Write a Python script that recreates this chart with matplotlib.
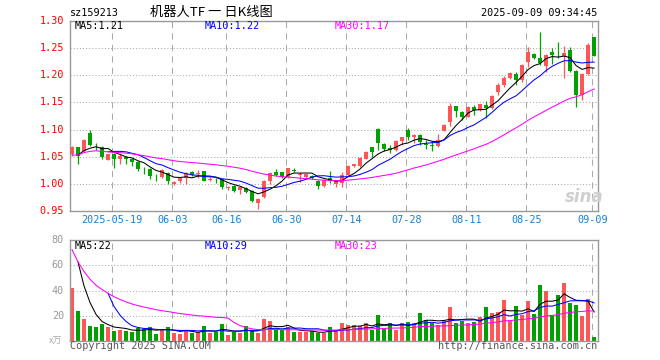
import numpy as np
import pandas as pd
import matplotlib
matplotlib.use("Agg")
import matplotlib.pyplot as plt

# daily bars for 159213
opens = [1.054, 1.067, 1.060, 1.093, 1.070, 1.068, 1.044, 1.055, 1.046, 1.049,
         1.046, 1.0395, 1.029, 1.027, 1.0146, 1.0117, 1.020, 0.9994, 1.004, 1.0105,
         1.0216, 1.018, 1.0235, 1.007, 1.009, 1.008, 0.992, 0.9963, 0.9889, 0.992,
         0.987, 0.9642, 0.9752, 1.004, 1.021, 1.021, 1.0117, 1.025, 1.0155, 1.012,
         1.0136, 1.0056, 0.9951, 1.010, 1.000, 1.0012, 1.0166, 1.0319, 1.033, 1.046,
         1.0675, 1.1012, 1.073, 1.066, 1.0626, 1.0797, 1.0994, 1.0859, 1.0896, 1.073,
         1.072, 1.070, 1.098, 1.1135, 1.1436, 1.133, 1.124, 1.1417, 1.136, 1.1454,
         1.140, 1.1688, 1.1823, 1.1958, 1.202, 1.191, 1.2254, 1.2395, 1.2328, 1.218,
         1.2426, 1.2395, 1.2358, 1.2469, 1.2082, 1.1638, 1.2032, 1.2703]
highs = [1.069, 1.068, 1.083, 1.100, 1.075, 1.069, 1.055, 1.056, 1.054, 1.051,
         1.047, 1.041, 1.030, 1.028, 1.018, 1.027, 1.021, 1.004, 1.011, 1.021,
         1.023, 1.026, 1.024, 1.012, 1.010, 1.009, 0.996, 0.997, 0.995, 0.993,
         0.988, 0.973, 1.006, 1.021, 1.0271, 1.022, 1.029, 1.028, 1.021, 1.018,
         1.016, 1.006, 1.008, 1.024, 1.007, 1.0215, 1.035, 1.037, 1.050, 1.060,
         1.068, 1.102, 1.075, 1.072, 1.081, 1.087, 1.1025, 1.091, 1.091, 1.081,
         1.078, 1.092, 1.110, 1.1485, 1.144, 1.135, 1.143, 1.145, 1.148, 1.153,
         1.164, 1.186, 1.198, 1.206, 1.207, 1.222, 1.252, 1.241, 1.2808, 1.240,
         1.250, 1.261, 1.254, 1.253, 1.210, 1.204, 1.259, 1.271]
lows = [1.052, 1.037, 1.058, 1.070, 1.063, 1.046, 1.043, 1.029, 1.036, 1.036,
        1.032, 1.024, 1.017, 1.009, 1.0056, 1.010, 0.999, 0.998, 1.001, 0.9994,
        1.014, 1.0105, 1.005, 1.004, 1.002, 0.990, 0.989, 0.985, 0.981, 0.983,
        0.9655, 0.9537, 0.974, 0.9998, 1.015, 1.010, 1.011, 1.021, 1.003, 1.011,
        1.008, 0.990, 0.994, 1.001, 0.993, 0.993, 1.014, 1.030, 1.031, 1.045,
        1.0497, 1.0613, 1.0595, 1.057, 1.060, 1.072, 1.081, 1.076, 1.0718, 1.0635,
        1.0595, 1.068, 1.097, 1.107, 1.124, 1.118, 1.123, 1.127, 1.135, 1.122,
        1.138, 1.164, 1.179, 1.194, 1.182, 1.188, 1.216, 1.231, 1.219, 1.2057,
        1.2205, 1.2315, 1.1946, 1.206, 1.142, 1.1546, 1.200, 1.235]
closes = [1.067, 1.052, 1.081, 1.072, 1.069, 1.049, 1.054, 1.046, 1.052, 1.046,
          1.040, 1.027, 1.028, 1.0136, 1.0135, 1.0247, 1.0043, 1.0037, 1.0105, 1.0198,
          1.0154, 1.020, 1.0056, 1.009, 1.008, 0.9933, 0.994, 0.987, 0.9944, 0.984,
          0.9685, 0.9722, 1.0047, 1.019, 1.016, 1.0117, 1.0284, 1.023, 1.018, 1.0173,
          1.0105, 0.9951, 1.0074, 1.005, 1.004, 1.0166, 1.0319, 1.0362, 1.0466, 1.0577,
          1.0583, 1.0748, 1.0638, 1.0613, 1.0791, 1.0859, 1.0859, 1.0896, 1.0761, 1.0705,
          1.069, 1.081, 1.1086, 1.1436, 1.135, 1.124, 1.1417, 1.136, 1.1466, 1.1392,
          1.162, 1.1823, 1.1958, 1.2045, 1.191, 1.2192, 1.2438, 1.2328, 1.2223, 1.2377,
          1.2377, 1.2389, 1.242, 1.2082, 1.1638, 1.2026, 1.2562, 1.2365]
volumes = [41.6, 23.7, 17.4, 11.8, 11.1, 13.4, 11.3, 7.9, 8.7, 8.2,
           7.4, 10.0, 9.2, 10.8, 5.5, 9.5, 10.8, 6.3, 5.8, 8.7,
           6.6, 6.8, 11.8, 6.6, 7.1, 13.4, 4.7, 7.4, 6.1, 12.1,
           8.7, 6.1, 17.4, 16.0, 8.7, 8.7, 11.3, 6.8, 6.8, 6.8,
           7.9, 6.6, 6.6, 11.2, 7.9, 14.2, 12.6, 12.6, 11.6, 14.2,
           8.7, 20.5, 9.2, 14.2, 8.7, 14.2, 15.0, 14.2, 22.1, 16.6,
           14.2, 12.6, 15.8, 26.8, 14.2, 15.8, 14.2, 15.3, 18.9, 26.8,
           22.1, 22.6, 32.1, 15.8, 27.4, 20.5, 31.6, 21.3, 44.7, 39.5,
           20.5, 36.3, 45.8, 30.3, 28.4, 19.7, 33.2, 3.2]

# three sessions before the window (only feed the moving averages)
prior_closes = [1.040, 1.050, 1.055]
prior_volumes = [112.0, 78.0, 58.0]

tick_dates = ["2025-05-19", "2025-06-03", "2025-06-16", "2025-06-30", "2025-07-14",
              "2025-07-28", "2025-08-11", "2025-08-25", "2025-09-09"]
tick_labels = ["2025-05-19", "06-03", "06-16", "06-30", "07-14",
               "07-28", "08-11", "08-25", "09-09"]

dates = pd.bdate_range("2025-05-08", "2025-09-09")
dates = dates[dates != pd.Timestamp("2025-06-02")]  # dragon boat holiday

RED = "#ff5757"
GREEN = "#00a000"
GRID = "#aaaaaa"
MONO = "DejaVu Sans Mono"
FS = 7.3
LW = 0.75

n = len(closes)
x = np.arange(n)
o = np.array(opens); h = np.array(highs); l = np.array(lows); c = np.array(closes)
v = np.array(volumes)
up = c >= o
cols = np.where(up, RED, GREEN)

npre = len(prior_closes)
cs = pd.Series(prior_closes + closes)
vs = pd.Series(prior_volumes + volumes)
ma = {}
for name, s in (("p", cs), ("v", vs)):
    ma[name + "5"] = s.rolling(5, min_periods=5).mean().values[npre:]
    ma[name + "10"] = s.rolling(10, min_periods=10).mean().values[npre:]
    ma[name + "30"] = s.rolling(30, min_periods=1).mean().values[npre:]

W, H = 660, 360
fig = plt.figure(figsize=(W / 100, H / 100), dpi=100)

def box(x0, y0, x1, y1):
    return [x0 / W, 1 - y1 / H, (x1 - x0) / W, (y1 - y0) / H]

ax = fig.add_axes(box(70.3, 21.3, 597.7, 210.7))
axv = fig.add_axes(box(70.3, 240, 597.7, 341))

xlim = (-0.28, 87.6)
grid_x = [list(dates).index(pd.Timestamp(d)) - 0.28 for d in tick_dates]

for a in (ax, axv):
    a.set_xlim(*xlim)
    for s in a.spines.values():
        s.set_color("#999999")
        s.set_linewidth(1.0)
    a.set_xticks([])
    a.set_yticks([])
    for gx in grid_x:
        a.axvline(gx, color=GRID, lw=0.75, ls=(0, (6, 5)), zorder=0)

# price panel
ax.set_ylim(0.95, 1.30)
for yv in np.arange(1.00, 1.26, 0.05):
    ax.axhline(yv, color=GRID, lw=0.75, ls=(0, (1, 2)), zorder=0)
ax.vlines(x, l, h, colors=cols, lw=0.9, zorder=2)
body = np.maximum(np.abs(c - o), 0.0012)
ax.bar(x, body, bottom=np.minimum(o, c), width=0.8, color=cols, lw=0, zorder=3)
ax.plot(x, ma["p5"], color="black", lw=LW, zorder=4)
ax.plot(x, ma["p10"], color="#0000ff", lw=LW, zorder=4)
ax.plot(x, ma["p30"], color="#ff00ff", lw=LW, zorder=4)

for yv in np.arange(0.95, 1.31, 0.05):
    ax.text(-0.012, yv, f"{yv:.2f}", transform=ax.get_yaxis_transform(),
            ha="right", va="center", color="#ff0000", family=MONO, fontsize=FS)
for gx, lab in zip(grid_x, tick_labels):
    ax.text(gx, -0.025, lab, transform=ax.get_xaxis_transform(), ha="center", va="top",
            color="#1a7fd0", family=MONO, fontsize=FS)

fig.text(584 / W, 1 - 197 / H, "sina", ha="center", va="center", color="#cfcfcf",
         fontsize=12, fontweight="bold", style="italic")

# volume panel
axv.set_ylim(0, 80)
for yv in (20, 40, 60):
    axv.axhline(yv, color=GRID, lw=0.75, ls=(0, (1, 2)), zorder=0)
axv.bar(x, v, width=0.8, color=cols, lw=0, zorder=2)
axv.plot(x, ma["v5"], color="black", lw=LW, zorder=4)
axv.plot(x, ma["v10"], color="#0000ff", lw=LW, zorder=4)
axv.plot(x, ma["v30"], color="#ff00ff", lw=LW, zorder=4)
for yv in (20, 40, 60, 80):
    axv.text(-0.012, yv, str(yv), transform=axv.get_yaxis_transform(),
             ha="right", va="center", color="#999999", family=MONO, fontsize=FS)

def t(px, py, s, **kw):
    kw.setdefault("family", MONO)
    kw.setdefault("fontsize", FS)
    kw.setdefault("va", "center")
    fig.text(px / W, 1 - py / H, s, **kw)

t(70, 12.5, "sz159213", color="black")
t(150, 12.5, "机器人TF 一 日K线图", color="black",
  family=["Noto Sans CJK SC", "DejaVu Sans"], fontsize=9.5)
t(597, 12.5, "2025-09-09 09:34:45", color="black", ha="right")

t(74.5, 26.3, "MA5:1.21", color="black")
t(204.5, 26.3, "MA10:1.22", color="#0000ff")
t(335, 26.3, "MA30:1.17", color="#ff00ff")
t(74.5, 246, "MA5:22", color="black")
t(204.5, 246, "MA10:29", color="#0000ff")
t(335, 246, "MA30:23", color="#ff00ff")

t(49, 341, "x万", color="#aaaaaa", family=["Noto Sans CJK SC", "DejaVu Sans"], fontsize=6.5)
t(70, 346, "Copyright 2025 SINA.COM", color="#555555")
t(597, 346, "http://finance.sina.com.cn", color="#555555", ha="right")

fig.savefig("out.png", dpi=100)
